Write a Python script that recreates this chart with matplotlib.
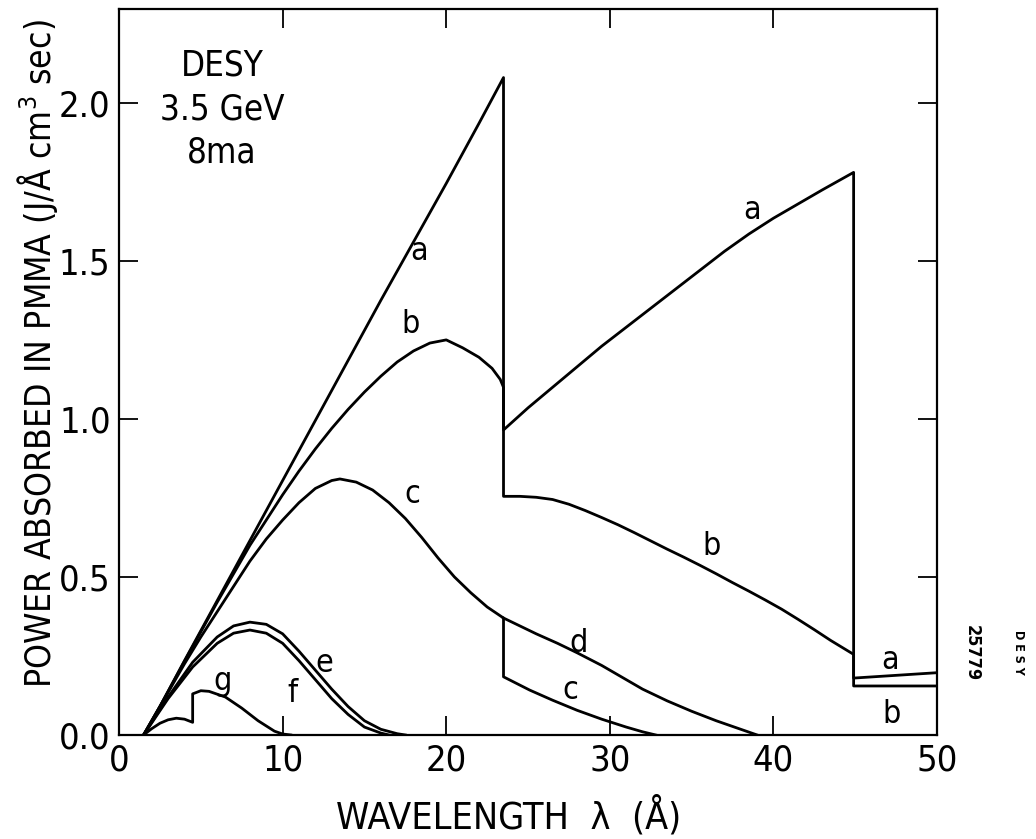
import matplotlib
matplotlib.use("Agg")
import matplotlib.pyplot as plt

# power absorbed in PMMA vs wavelength, DESY 3.5 GeV 8 mA
# curve a: no filter, b..g: increasing filtering; edges at O-K (23.5) and C-K (44.9)
a_wl = [1.5, 2.5, 4, 6, 8, 10, 12, 14, 16, 18, 20, 22, 23.5,
        23.5, 25, 26.5, 28, 29.5, 31, 32.5, 34, 35.5, 37, 38.5, 40, 41.5, 43, 44.9,
        44.9, 47, 50]
a_pw = [0, 0.09, 0.235, 0.425, 0.615, 0.805, 0.995, 1.185, 1.375, 1.56, 1.745, 1.935, 2.08,
        0.965, 1.035, 1.10, 1.165, 1.23, 1.29, 1.35, 1.41, 1.47, 1.53, 1.585, 1.635, 1.68,
        1.725, 1.78,
        0.18, 0.187, 0.197]

b_wl = [1.5, 2.5, 4, 6, 8, 10, 11, 12, 13, 14, 15, 16, 17, 18, 19, 20, 21, 22, 22.8, 23.3, 23.5,
        23.5, 24.5, 25.5, 26.5, 27.5, 28.5, 29.5, 30.5, 31.5, 32.5, 33.5, 34.5, 35.5, 36.5,
        37.5, 38.5, 39.5, 40.5, 41.5, 42.5, 43.5, 44.9,
        44.9, 50]
b_pw = [0, 0.09, 0.233, 0.42, 0.60, 0.76, 0.835, 0.905, 0.97, 1.03, 1.085, 1.135, 1.18, 1.215,
        1.24, 1.25, 1.225, 1.195, 1.16, 1.125, 1.10,
        0.755, 0.755, 0.752, 0.745, 0.73, 0.71, 0.688, 0.665, 0.64, 0.614, 0.588, 0.563,
        0.537, 0.51, 0.482, 0.455, 0.427, 0.398, 0.366, 0.333, 0.299, 0.255,
        0.155, 0.155]

c_wl = [1.5, 2.5, 4, 5, 6, 7, 8, 9, 10, 11, 12, 13, 13.5, 14.5, 15.5, 16.5, 17.5, 18.5, 19.5,
        20.5, 21.5, 22.5, 23.5,
        23.5, 24.3, 25.1, 26.5, 28, 29.5, 31, 32, 32.8]
c_pw = [0, 0.09, 0.225, 0.31, 0.39, 0.47, 0.55, 0.62, 0.68, 0.735, 0.78, 0.805, 0.81, 0.80,
        0.775, 0.735, 0.685, 0.625, 0.56, 0.50, 0.45, 0.405, 0.37,
        0.184, 0.163, 0.142, 0.11, 0.078, 0.05, 0.025, 0.01, 0.0]

d_wl = [23.5, 24.5, 25.5, 26.8, 28, 29.5, 31, 32, 33.5, 35, 36.5, 38, 39]
d_pw = [0.37, 0.345, 0.32, 0.29, 0.26, 0.22, 0.175, 0.145, 0.108, 0.075, 0.045, 0.018, 0.0]

e_wl = [1.5, 3, 4.5, 6, 7, 8, 9, 10, 11, 12, 13, 14, 15, 16, 17, 17.5]
e_pw = [0, 0.12, 0.23, 0.31, 0.345, 0.357, 0.35, 0.32, 0.265, 0.205, 0.145, 0.09, 0.045,
        0.018, 0.004, 0.0]

f_wl = [1.5, 3, 4.5, 6, 7, 8, 9, 10, 11, 12, 13, 14, 15, 16, 16.5]
f_pw = [0, 0.115, 0.215, 0.29, 0.322, 0.332, 0.322, 0.29, 0.235, 0.175, 0.115, 0.065,
        0.025, 0.006, 0.0]

g_wl = [1.5, 2, 2.5, 3, 3.5, 4, 4.5, 4.5, 5, 5.5, 6.5, 7.5, 8.5, 9.5, 10, 10.5]
g_pw = [0, 0.02, 0.037, 0.048, 0.053, 0.05, 0.04, 0.13, 0.14, 0.138, 0.12, 0.085, 0.045,
        0.012, 0.003, 0.0]

# curve letters: (text, wavelength, power)
curve_labels = [("a", 18.35, 1.53), ("b", 17.8, 1.30), ("c", 17.9, 0.76),
                ("a", 38.7, 1.66), ("b", 36.2, 0.595), ("d", 28.1, 0.29),
                ("c", 27.6, 0.14), ("a", 47.1, 0.237), ("b", 47.2, 0.065),
                ("e", 12.55, 0.225), ("f", 10.6, 0.13), ("g", 6.3, 0.17)]

x_ticks = [0, 10, 20, 30, 40, 50]
y_ticks = [0.0, 0.5, 1.0, 1.5, 2.0]

plt.rcParams["font.family"] = ["DejaVu Sans"]
plt.rcParams["font.stretch"] = "condensed"
plt.rcParams["mathtext.fontset"] = "custom"
plt.rcParams["mathtext.rm"] = "DejaVu Sans:stretch=condensed"

fig = plt.figure(figsize=(10.36, 8.39), dpi=100)
ax = fig.add_axes([0.1149, 0.1240, 0.7896, 0.8653])

for wl, pw in [(a_wl, a_pw), (b_wl, b_pw), (c_wl, c_pw), (d_wl, d_pw),
               (e_wl, e_pw), (f_wl, f_pw), (g_wl, g_pw)]:
    ax.plot(wl, pw, color="black", lw=2.0, solid_joinstyle="round")

for txt, x, y in curve_labels:
    ax.text(x, y, txt, ha="center", va="center", fontsize=23, color="black")

ax.text(6.3, 1.98, "DESY\n3.5 GeV\n8ma", ha="center", va="center",
        fontsize=25, linespacing=1.35)

ax.set_xlim(0, 50)
ax.set_ylim(0, 2.297)
ax.set_xticks(x_ticks)
ax.set_xticklabels([str(t) for t in x_ticks])
ax.set_yticks(y_ticks)
ax.set_yticklabels([f"{t:.1f}" for t in y_ticks])
ax.tick_params(direction="in", length=14, width=1.3, top=True, right=True,
               labelsize=26, pad=6)
for s in ax.spines.values():
    s.set_linewidth(1.6)

ax.set_xlabel("WAVELENGTH  \u03bb  (\u00c5)", fontsize=27)
ax.xaxis.set_label_coords(0.476, -0.084)
ax.set_ylabel("POWER ABSORBED IN PMMA (J/\u00c5 cm$^3$ sec)", fontsize=25.5)
ax.yaxis.set_label_coords(-0.072, 0.525)

fig.text(0.938, 0.222, "25779", rotation=270, ha="center", va="center",
         fontsize=13, fontweight="bold")
fig.text(0.983, 0.222, "D E S Y", rotation=270, ha="center", va="center",
         fontsize=9, fontweight="bold")

fig.savefig("out.png", dpi=100, facecolor="white")
